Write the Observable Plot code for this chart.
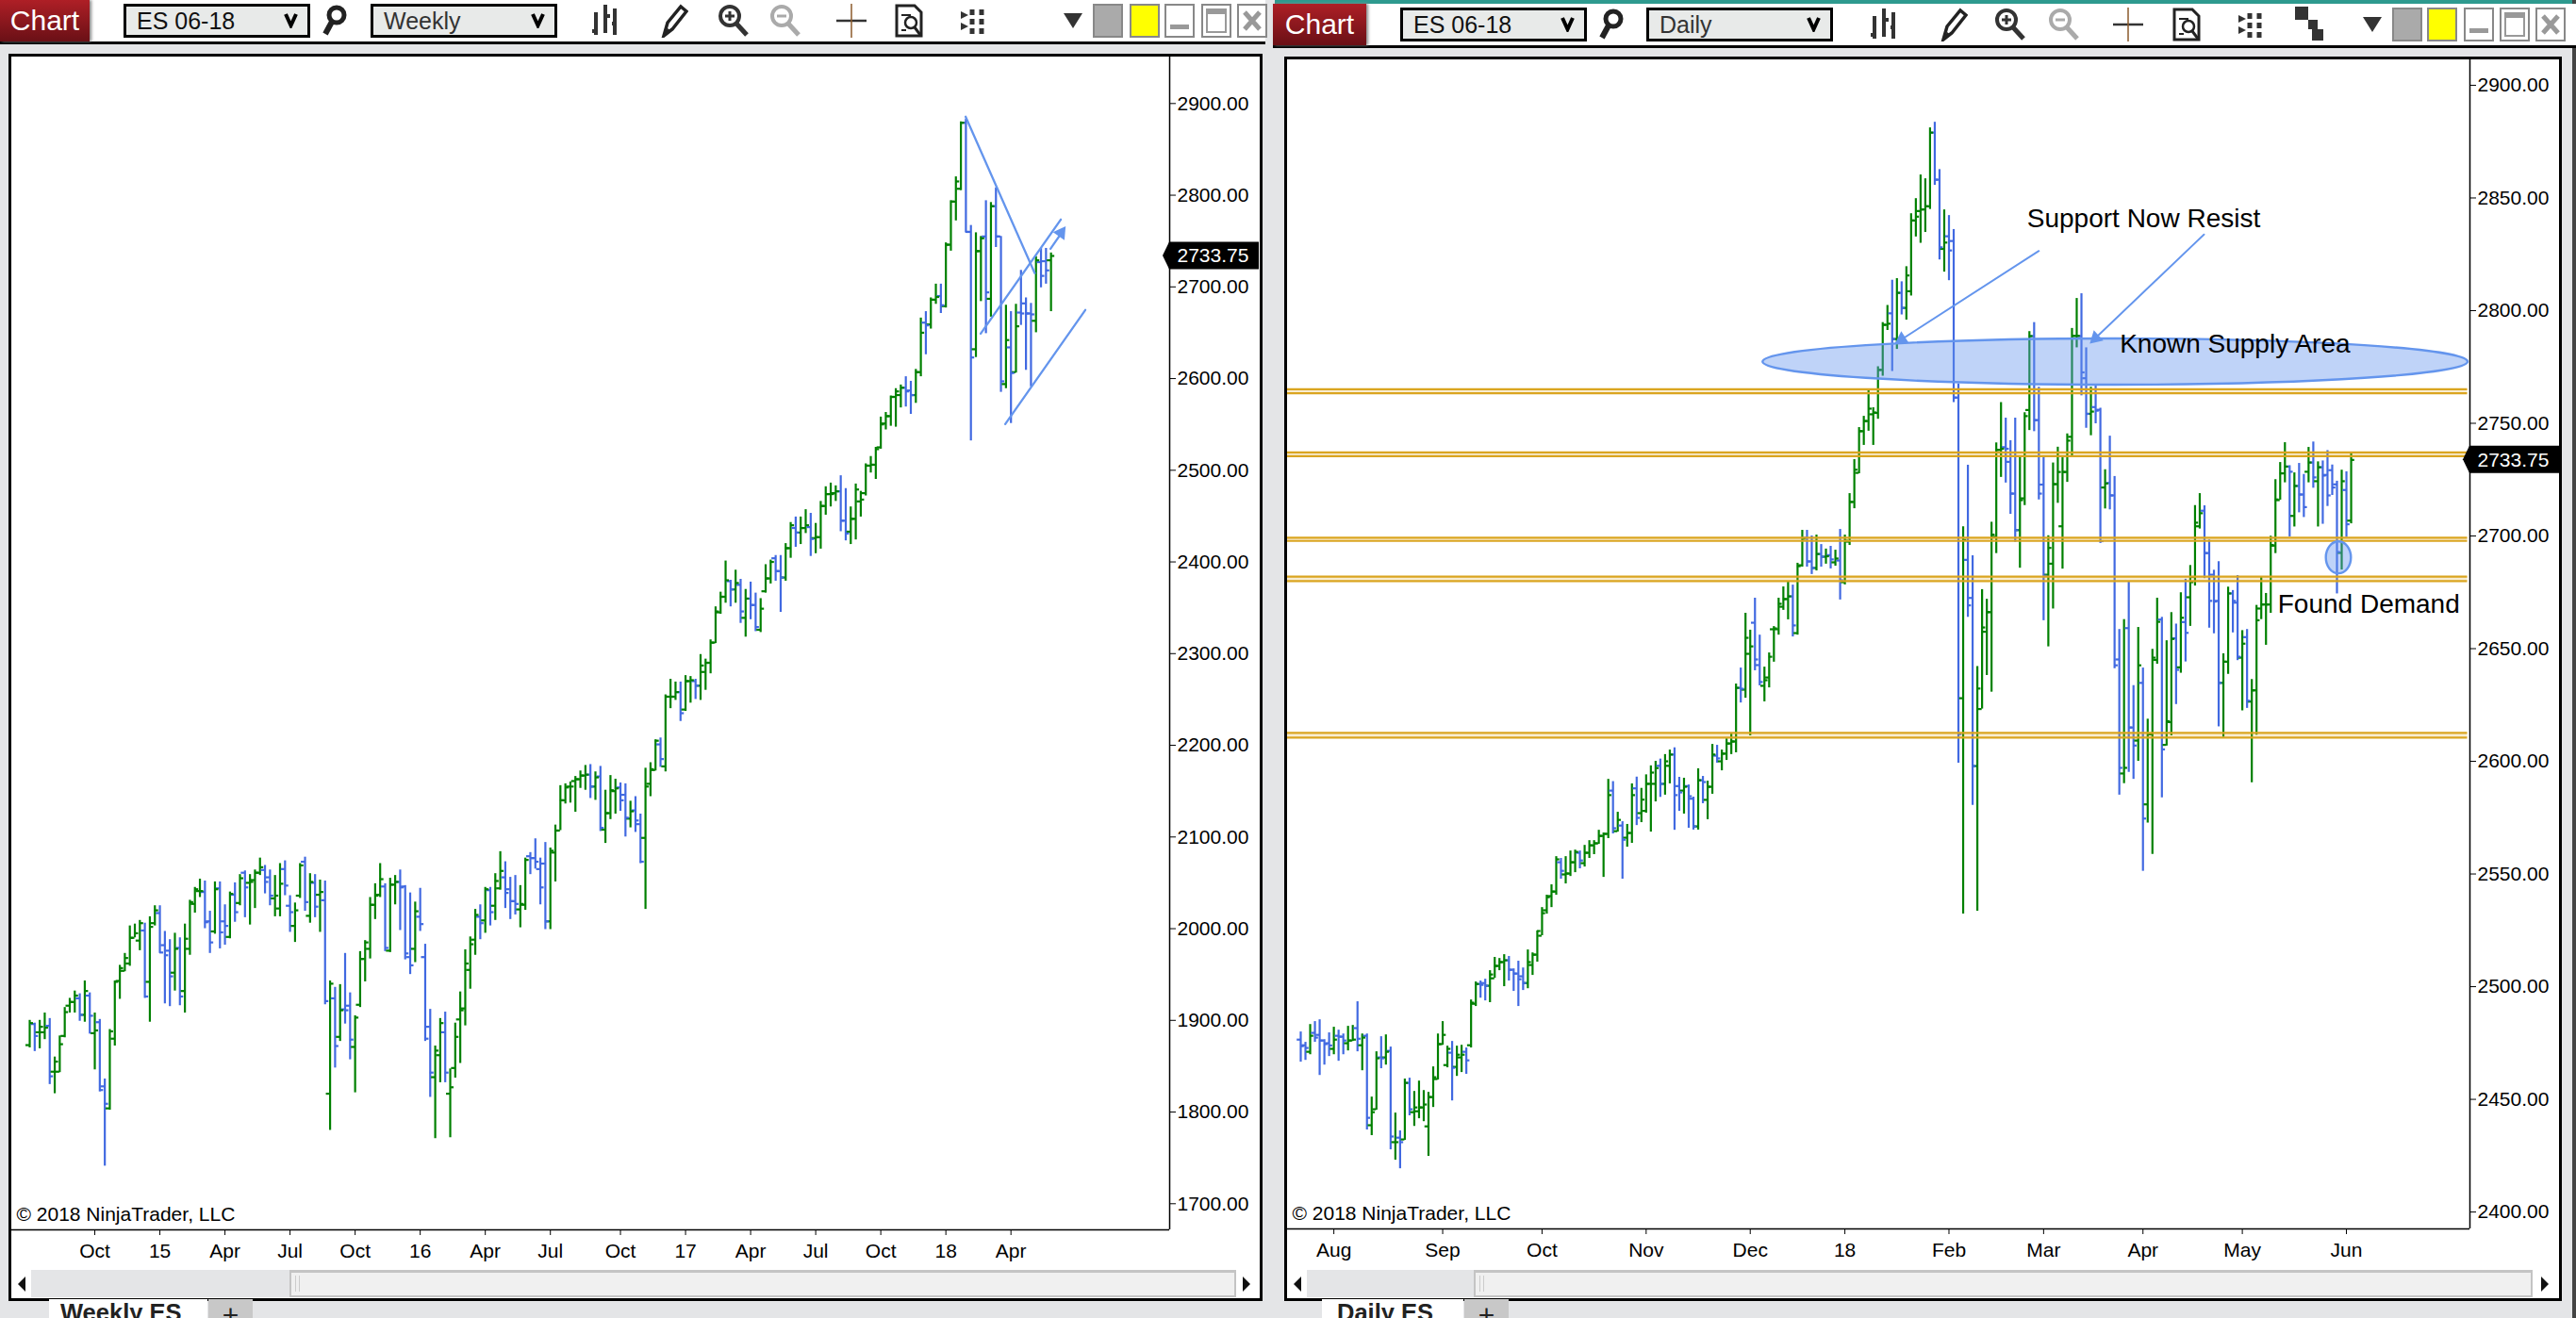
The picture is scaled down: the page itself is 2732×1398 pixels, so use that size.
<!DOCTYPE html>
<html><head><meta charset="utf-8">
<script src="https://cdn.jsdelivr.net/npm/d3@7"></script>
<script src="https://cdn.jsdelivr.net/npm/@observablehq/plot@0.6"></script>
<style>
html,body{margin:0;padding:0;background:#E4E5E7;width:2732px;height:1398px;overflow:hidden;font-family:"Liberation Sans",Arial,sans-serif}
.abs{position:absolute}
.tab{position:absolute;color:#fff;display:flex;align-items:center;justify-content:center;font-size:30px;background:linear-gradient(#AE1F26,#6A1016);box-shadow:2px 0 3px #888}
.dd{position:absolute;box-sizing:border-box;border:3px solid #000;background:#E8EAE9;font-size:25px;padding-left:11px;display:flex;align-items:center;justify-content:space-between;padding-right:10px;color:#111}
.pane{position:absolute;box-sizing:border-box;border:3px solid #000;background:#fff}
.sb{position:absolute;box-sizing:border-box;background:#F0F0F0;border:2px solid #C4C4C4;border-top-width:3px}
.btm{position:absolute;background:#fff;top:1378px;height:20px;overflow:hidden;font-weight:bold;font-size:25.5px;text-align:left;padding-left:12px;box-sizing:border-box;color:#222;line-height:29px}
</style></head><body><div id="root"></div>
<script>
// OHLC bars: [open, high, low, close]
const weeklyBars=[
[1873,1900,1870,1897],[1896,1897,1866,1883],[1887,1900,1869,1893],[1887,1908,1879,1892],[1894,1902,1830,1839],
[1844,1860,1820,1855],[1844,1883,1843,1874],[1883,1914,1881,1909],[1916,1924,1908,1920],[1920,1932,1908,1927],
[1924,1929,1899,1906],[1906,1943,1898,1932],[1927,1930,1885,1905],[1886,1908,1846,1889],[1898,1901,1822,1824],
[1828,1836,1741,1809],[1804,1890,1802,1888],[1880,1943,1872,1942],[1943,1960,1923,1957],[1954,1973,1953,1968],
[1962,2003,1959,1990],[1990,2005,1990,1995],[1987,2009,1976,2006],[1998,2006,1924,1926],[1942,2013,1898,2002],
[2006,2025,2003,2020],[2017,2025,1973,1974],[1982,1997,1918,1971],[1976,1988,1915,1948],[1952,1995,1932,1978],
[1979,1990,1916,1926],[1932,2005,1908,1989],[1978,2031,1971,2029],[2027,2045,2017,2043],[2041,2054,2034,2041],
[2040,2052,2000,2007],[2008,2019,1973,1985],[1997,2051,1994,2043],[2044,2051,1978,1996],[2008,2026,1982,2003],
[1991,2040,1989,2038],[2037,2050,2007,2018],[2028,2059,2025,2055],[2061,2063,2012,2045],[2050,2059,2004,2051],
[2053,2064,2022,2061],[2061,2077,2058,2067],[2064,2069,2038,2051],[2056,2064,2025,2036],[2033,2058,2013,2036],
[2022,2071,2013,2049],[2065,2074,2036,2047],[2025,2036,1996,2018],[2003,2028,1985,2020],[2036,2071,2033,2069],
[2073,2078,2019,2029],[2014,2060,2006,2051],[2050,2059,2012,2024],[2037,2053,1996,2040],[2031,2052,1917,1921],
[1820,1943,1780,1940],[1924,1936,1848,1872],[1882,1939,1877,1911],[1912,1973,1896,1911],[1916,1930,1857,1879],
[1871,1905,1821,1903],[1917,1975,1914,1967],[1967,1987,1942,1985],[1978,2034,1967,2026],[2026,2049,2010,2036],
[2037,2071,2034,2054],[2046,2049,1975,1979],[1976,2055,1974,2048],[2048,2058,2026,2051],[2051,2064,1998,2045],
[2046,2047,1966,1973],[1969,2039,1950,1960],[1978,2029,1963,2019],[2013,2044,1997,2005],[1969,1983,1877,1880],
[1893,1912,1816,1843],[1838,1872,1771,1867],[1862,1902,1832,1897],[1887,1909,1832,1843],[1820,1847,1772,1827],
[1848,1897,1837,1882],[1901,1931,1853,1911],[1913,1977,1894,1962],[1955,1991,1934,1983],[1988,2021,1971,2015],
[2013,2026,1988,2006],[2009,2045,1995,2043],[2042,2045,2003,2018],[2025,2060,2009,2052],[2044,2084,2042,2063],
[2056,2073,2022,2039],[2043,2056,2010,2030],[2030,2058,2015,2027],[2021,2047,2001,2027],[2026,2077,2020,2075],
[2079,2083,2059,2077],[2077,2098,2065,2073],[2065,2077,2026,2045],[2071,2094,1999,2008],[2008,2088,1999,2085],
[2083,2113,2051,2107],[2107,2156,2107,2140],[2140,2158,2136,2154],[2155,2160,2137,2155],[2161,2166,2127,2163],
[2163,2172,2153,2167],[2167,2178,2151,2168],[2168,2179,2142,2155],[2155,2171,2140,2165],[2166,2177,2106,2110],
[2108,2151,2093,2126],[2126,2167,2119,2151],[2150,2163,2125,2153],[2154,2159,2128,2140],[2146,2158,2100,2121],
[2120,2139,2110,2128],[2129,2144,2105,2118],[2114,2125,2071,2073],[2099,2175,2021,2155],[2158,2181,2144,2174],
[2173,2206,2172,2205],[2201,2208,2176,2185],[2177,2255,2171,2253],[2253,2272,2240,2253],[2253,2269,2249,2258],
[2258,2269,2226,2235],[2239,2276,2237,2270],[2270,2275,2246,2271],[2270,2272,2250,2265],[2265,2299,2249,2287],
[2280,2294,2260,2290],[2290,2315,2278,2312],[2312,2351,2311,2346],[2345,2367,2343,2362],[2362,2401,2355,2380],
[2379,2380,2351,2370],[2370,2391,2355,2377],[2375,2381,2333,2346],[2339,2370,2318,2360],[2360,2378,2337,2353],
[2353,2366,2324,2329],[2326,2360,2323,2349],[2368,2397,2366,2382],[2382,2402,2376,2400],[2404,2407,2379,2390],
[2390,2407,2345,2383],[2383,2420,2379,2415],[2415,2443,2404,2440],[2437,2449,2416,2432],[2432,2449,2419,2437],
[2437,2457,2431,2440],[2438,2453,2406,2425],[2426,2442,2409,2427],[2427,2466,2414,2461],[2461,2482,2451,2474],
[2474,2486,2460,2474],[2475,2483,2466,2477],[2477,2494,2433,2445],[2445,2480,2423,2431],[2433,2460,2419,2447],
[2447,2485,2424,2479],[2466,2477,2449,2468],[2475,2507,2472,2505],[2505,2515,2497,2506],[2506,2525,2490,2523],
[2525,2558,2523,2550],[2551,2563,2544,2559],[2559,2581,2548,2580],[2580,2589,2547,2586],[2582,2593,2568,2590],
[2590,2602,2569,2586],[2587,2597,2561,2582],[2582,2610,2573,2607],[2607,2666,2602,2650],[2661,2673,2626,2658],
[2659,2688,2654,2686],[2686,2703,2681,2689],[2690,2703,2671,2680],[2679,2748,2677,2746],[2746,2794,2739,2793],
[2793,2820,2772,2815],[2807,2880,2805,2879],[2879,2883,2759,2760],[2760,2767,2532,2623],[2632,2759,2623,2739],
[2739,2755,2684,2753],[2755,2794,2649,2694],[2687,2792,2667,2788],[2788,2808,2743,2755],[2755,2755,2585,2597],
[2594,2680,2589,2642],[2634,2673,2551,2606],[2607,2681,2606,2657],[2672,2718,2658,2671],[2682,2688,2609,2671],
[2671,2682,2591,2670],[2663,2733,2650,2729],[2727,2742,2699,2712],[2728,2742,2703,2718],[2729,2737,2673,2733.75]];

const dailyBars=[
[2476.5,2479.9,2466.5,2473.6],[2474,2475.3,2467.3,2472.8],[2471.1,2483.2,2469.8,2478.2],[2479.5,2484.5,2475.3,2477.4],[2478.6,2485.3,2460.6,2476.1],
[2476.1,2476.5,2465.2,2474.5],[2474.9,2479.5,2469,2473.9],[2472.4,2482,2469.8,2476.5],[2478.2,2480.7,2466.9,2477.8],[2477.8,2479,2469.8,2476.1],
[2474.9,2482.4,2471.5,2476.1],[2476.1,2482.8,2475.7,2476.5],[2481.6,2493.3,2471.1,2476.9],[2474,2479,2462.7,2477.4],[2478.2,2479,2436.4,2441.8],
[2438.5,2451,2433.9,2444.3],[2445.6,2471.1,2445.2,2468.2],[2468.6,2477.8,2463.6,2468.2],[2468.6,2478.6,2465.2,2471.1],[2471.5,2473.2,2427.6,2433.5],
[2431,2443.9,2423,2431],[2433,2436,2419.2,2431],[2432.2,2459,2431.8,2457.3],[2457.3,2459.4,2442.7,2445.6],[2444.3,2453.5,2438,2446.4],
[2444.7,2458.1,2441.4,2446.4],[2446.4,2453.9,2440.1,2447.7],[2438,2453.1,2424.7,2451],[2451,2464.4,2446.4,2459.8],[2459,2479,2458.6,2474.5],
[2474.5,2484.5,2474,2478.6],[2465.2,2473.6,2464,2472.4],[2470.7,2475.7,2449.3,2464],[2464.4,2473.6,2460.2,2469.8],[2468.6,2474,2461.9,2469.8],
[2471.1,2472.8,2461.1,2467.3],[2474,2494.1,2472.8,2492.9],[2492.4,2502.1,2491.2,2501.2],[2501.2,2502.5,2494.9,2500.8],[2501.6,2503.3,2493.7,2500.4],
[2500.4,2507.1,2492.9,2505.4],[2503.7,2513,2503.7,2509.2],[2509.2,2512.5,2507.1,2510.9],[2510.9,2514.2,2500,2511.7],[2511.7,2513.4,2502.5,2507.5],
[2507.5,2507.9,2497.9,2505.8],[2505.8,2511.3,2491.2,2503.3],[2504.6,2508.3,2498.3,2501.6],[2501.6,2516.3,2499.1,2510.9],[2509.6,2515,2505,2514.2],
[2514.2,2524.7,2510.9,2524.7],[2522.6,2535.1,2522.6,2532.6],[2533.9,2540.6,2532.2,2539.7],[2540.2,2545.2,2535.1,2542.2],[2542.2,2557.7,2540.6,2556.5],
[2555.2,2556.9,2547.7,2551.4],[2549.8,2557.7,2545.6,2550.2],[2550.2,2560.2,2548.9,2555.2],[2555.2,2560.6,2550.6,2559.8],[2559.4,2560.2,2552.3,2556],
[2554.8,2562.7,2553.1,2559.4],[2559.4,2564.8,2556.9,2562.7],[2562.7,2564.8,2558.6,2563.6],[2563.6,2569.4,2563.2,2566.9],[2566.9,2568.2,2548.5,2567.8],
[2567.8,2592,2565.7,2585],[2587,2591,2567.8,2570.3],[2569,2577.4,2568.6,2574],[2571.5,2573.2,2547.7,2565.2],[2566.1,2572,2561.9,2568.2],
[2568.2,2590,2563.6,2585],[2588,2593,2571.5,2574.9],[2577,2588,2572.8,2583],[2578,2594,2577,2590],[2590,2598,2568.6,2595],
[2590,2600,2582,2597],[2598,2601,2584,2590],[2590,2603,2585,2600],[2598,2605,2590,2603],[2603,2606,2569.4,2585],
[2589,2592.9,2577.8,2586.2],[2587,2592.5,2576.6,2588.7],[2589,2589.5,2570.3,2584.5],[2583.4,2584.1,2569.5,2571.1],[2571.1,2596.7,2569.5,2591.6],
[2591.6,2593.3,2581.2,2590.8],[2582.9,2591.2,2574.1,2588.7],[2588.7,2607.5,2585.4,2603],[2602.5,2607.1,2599.2,2601.3],[2600,2605,2595.8,2603.4],
[2603.4,2610,2600.4,2607.9],[2607.9,2612.6,2603,2608.8],[2608.8,2634.3,2603.8,2632.6],[2632.6,2641.4,2625.9,2632.2],[2631.8,2665.7,2628,2654.8],
[2647.7,2658.2,2611.3,2651],[2661.5,2672.4,2640.2,2645.2],[2642.7,2656,2633.5,2635.2],[2633.5,2641.8,2626.4,2636],[2637.2,2648.1,2632.6,2646.4],
[2658.6,2659.8,2644,2659],[2658.6,2672.4,2656,2669.9],[2668.6,2677.4,2667,2672],[2672,2679.9,2662.8,2673.2],[2673.2,2678.2,2655.2,2660.3],
[2656.9,2687.9,2656,2686.6],[2687,2702.5,2686.2,2698.8],[2699.2,2702.5,2686.2,2688.7],[2688.7,2700,2682.9,2685.8],[2685.8,2700.4,2684.5,2692],
[2692,2696.2,2686.2,2690.8],[2690.8,2694.2,2687.5,2691],[2691.5,2695.4,2685.4,2689.6],[2688.3,2693.7,2686.6,2690],[2689.1,2702.9,2671.6,2680.3],
[2679.5,2700.4,2678.3,2697.9],[2697.5,2718.8,2695.8,2715.1],[2715.1,2733.9,2712.1,2729.4],[2728,2748.1,2727.6,2746.5],[2746.5,2753.1,2740.2,2751],
[2751,2764.9,2746.5,2756.5],[2754,2756.9,2740.2,2754.8],[2754.6,2775.1,2751.8,2773.7],[2773.7,2794.7,2770.9,2793.7],[2793.7,2802.3,2791.2,2794.2],
[2798.8,2813.5,2773,2787.4],[2787.4,2814.2,2782.8,2807.9],[2807.9,2812.8,2798.1,2801.2],[2801.2,2819.5,2795.8,2815.6],[2808.6,2843,2806.5,2840],
[2840,2849.7,2832.7,2841.7],[2844.2,2860.2,2829.9,2844.9],[2844.9,2858.5,2834.7,2846.3],[2846.3,2881.1,2844.9,2879],[2879,2883.6,2855.6,2858.1],
[2858.1,2862.6,2822.5,2828.1],[2827.4,2844.7,2817.1,2830.2],[2833,2842.2,2813.3,2826.7],[2830.9,2836,2759.2,2761.4],[2761.4,2767.5,2599.2,2612.1],
[2628,2704.1,2532.2,2698.2],[2689.4,2731.4,2663.9,2669.2],[2672.5,2691.2,2580.5,2597.9],[2597.9,2642.1,2533.5,2632.3],[2623.2,2676.2,2623.2,2659.4],
[2657.5,2671.9,2638.1,2666.2],[2666.2,2706.1,2630.7,2700.6],[2699.6,2741.3,2692.2,2738.2],[2738.2,2759.2,2726,2738.7],[2739.4,2752.3,2723.5,2738.7],
[2732.9,2742.3,2709.6,2718.8],[2718.8,2752.3,2697.2,2702.6],[2702.6,2735.4,2685.7,2715.9],[2716.7,2754.7,2713.5,2753.2],[2755.9,2790.7,2746.8,2788.7],
[2788.7,2794.7,2746.3,2751.4],[2751.4,2766,2716,2718.8],[2722.8,2735.4,2662.4,2682.4],[2682.8,2700.1,2650.8,2694.7],[2687.7,2732.4,2667.6,2723],
[2723,2739.4,2714.5,2728.4],[2704.3,2734.7,2685.3,2728.4],[2728.4,2745.3,2723.8,2742.3],[2744,2792.1,2734.9,2788.8],[2788.8,2805.4,2783.5,2788.8],
[2788.7,2807.5,2762.2,2772.6],[2770,2783.5,2747.8,2754.2],[2754.2,2766,2744.5,2755.2],[2757.2,2767,2749.8,2755.6],[2756,2756.7,2696.7,2697.7],
[2721.5,2729.4,2712,2723.3],[2723.5,2744.3,2711.6,2718],[2718,2726.4,2641.1,2642.6],[2645.2,2658.5,2585,2597.1],[2594.6,2662.9,2590.1,2597.1],
[2659.1,2679.8,2595.1,2615],[2615,2633.6,2592,2607],[2609.2,2659.4,2600,2642.6],[2634.8,2641.4,2551.2,2574.6],[2580.9,2618.7,2572.6,2612],
[2612,2649.7,2558.7,2646],[2645,2672.4,2643.1,2661.9],[2662.9,2663.9,2583.8,2605.3],[2607.3,2653.5,2606.8,2617.8],[2617.4,2666,2611.3,2654.3],
[2654.6,2660.9,2625.2,2640.6],[2641.7,2674.8,2639.1,2663.7],[2661.8,2680.8,2644.1,2657],[2672.8,2686.9,2659.9,2679.5],[2681.8,2713.5,2677.8,2705.9],
[2704.3,2718.8,2703.1,2710.1],[2711.2,2713.4,2681.1,2692.4],[2692.4,2698.2,2659.1,2671.2],[2682.8,2684.8,2656.6,2670.9],[2671.2,2688.6,2615.3,2634.8],
[2634.8,2647.7,2610.6,2644.2],[2644.2,2677.3,2638.6,2674.5],[2674.5,2675.8,2657,2671.2],[2670.4,2682.4,2644.7,2646.4],[2646,2658,2622.4,2652.2],
[2655.1,2658.5,2623.5,2626.9],[2626.5,2636.3,2590.5,2631.5],[2631.5,2669.2,2611.6,2662.6],[2667.8,2681.6,2662.9,2669.6],[2669.6,2674.5,2651.5,2669.6],
[2669.6,2699.9,2665.7,2696],[2695.7,2725,2692.2,2716.2],[2715.9,2732.6,2715.9,2727.8],[2727.8,2741.4,2723.6,2730.8],[2730.8,2731.2,2699.6,2728.5],
[2708.9,2728,2704,2722.2],[2722.2,2732.2,2710.3,2718.4],[2718.4,2727.3,2708.2,2712.8],[2728.5,2739.3,2723.6,2732.6],[2732.6,2741.7,2721.2,2726],
[2724.3,2732.9,2704,2730.5],[2730.5,2733.3,2705.2,2726.8],[2727.1,2737.9,2713.1,2718],[2729.2,2731.5,2718,2721.5],[2722.9,2724.3,2674.3,2692.9],
[2692.5,2729.2,2684.9,2724.3],[2720.4,2728.5,2699.4,2705.2],[2706.8,2737.1,2705.4,2733.75]];

const weeklyTickPos=[14,27,40,53,66,79,92,105,119,132,145,158,171,184,197];
const weeklyTickLabels=["Oct","15","Apr","Jul","Oct","16","Apr","Jul","Oct","17","Apr","Jul","Oct","18","Apr"];
const dailyTickPos=[8,31,52,74,96,116,138,158,179,200,222];
const dailyTickLabels=["Aug","Sep","Oct","Nov","Dec","18","Feb","Mar","Apr","May","Jun"];
const lastPrice=2733.75;

// Hand-drawn trend lines on the weekly chart: bar number, price
const weeklyLines=[
 [[187.94,2885.6],[201.75,2714.9]],
 [[190.95,2649],[206.96,2773.5]],
 [[195.85,2550.3],[211.85,2674.8]],
 [[204.9,2741.6],[206.6,2755]]];
const weeklyArrowHead=[[207,2759,35]];
// Daily chart drawings
const bandUpper=[2765.1,2737.1,2699.2,2682,2612.6];
const bandLower=[2763.3,2735.4,2697.8,2680,2610.5];
const dailyArrows=[
 [[157,2826.5],[127.3,2786.3]],
 [[191.9,2833.8],[168.4,2786.7]]];
const dailyArrowHeads=[[128,2787.3,-123],[169,2787.8,-133]];
const dailyEllipses=[[173.2,2777.2,74.5,10.25],[220.4,2690.3,2.65,7.1]];
const dailyNotes=[
 {text:"Support Now Resist",bar:154.5,price:2840.9},
 {text:"Known Supply Area",bar:174.1,price:2785},
 {text:"Found Demand",bar:207.5,price:2669.5}];

const GREEN="#008000",BLUE="#4169E1",DRAW="#6495ED",GOLD="#DAA520",FONT='"Liberation Sans",Arial,sans-serif';
const table=b=>b.map(([o,h,l,c],k)=>({i:k+1,o,h,l,c,col:c>=o?GREEN:BLUE}));
const NS="http://www.w3.org/2000/svg";

function barMarks(data){
 const w=2.2;
 return [
  Plot.ruleX(data,{x:"i",y1:"l",y2:"h",stroke:"col",strokeWidth:w}),
  Plot.ruleY(data,{y:"o",x1:d=>d.i-0.75,x2:"i",stroke:"col",strokeWidth:w}),
  Plot.ruleY(data,{y:"c",x1:"i",x2:d=>d.i+0.75,stroke:"col",strokeWidth:w})
 ];
}
function priceTag(){
 return (index,{y},values,dim)=>{
  const x0=dim.width-dim.marginRight,cy=y(lastPrice),p=document.createElementNS(NS,"path");
  p.setAttribute("d",`M${x0-7},${cy}L${x0},${cy-14.5}H${dim.width-2}V${cy+14.5}H${x0}Z`);
  p.setAttribute("fill","#000");return p;};
}
function ellipseMark([cx,cy,rx,ry]){
 return (index,{x,y})=>{
  const e=document.createElementNS(NS,"ellipse");
  e.setAttribute("cx",x(cx));e.setAttribute("cy",y(cy));
  e.setAttribute("rx",Math.abs(x(cx+rx)-x(cx)));e.setAttribute("ry",Math.abs(y(cy+ry)-y(cy)));
  e.setAttribute("fill",DRAW);e.setAttribute("fill-opacity",0.41);
  e.setAttribute("stroke",DRAW);e.setAttribute("stroke-width",2.4);return e;};
}
const linesMark=(segs,sw)=>segs.map(s=>Plot.line(s,{x:d=>d[0],y:d=>d[1],stroke:DRAW,strokeWidth:sw}));
const headMark=(h,r)=>Plot.dot(h,{x:d=>d[0],y:d=>d[1],rotate:d=>d[2],symbol:"triangle",r,fill:DRAW});

function chart({bars,xDomain,yDomain,width,height,marginBottom,tickPos,tickLabels,step,yStart,yEnd,extra}){
 const data=table(bars),fmt=d3.format(".2f");
 return Plot.plot({
  width,height,marginLeft:1,marginRight:97,marginTop:2,marginBottom,
  style:{fontFamily:FONT,background:"transparent",overflow:"visible",color:"#000"},
  color:{type:"identity"},
  x:{type:"linear",domain:xDomain},
  y:{type:"linear",domain:yDomain},
  marks:[
   ...barMarks(data),
   ...extra,
   Plot.ruleX([xDomain[1]],{stroke:"#000",strokeWidth:1.5}),
   Plot.ruleY([yDomain[0]],{stroke:"#000",strokeWidth:1.5}),
   Plot.axisY({anchor:"right",ticks:d3.range(yStart,yEnd+1,step),tickFormat:fmt,tickSize:6,tickPadding:2,fontSize:21,label:null,color:"#000",fontVariant:"normal"}),
   Plot.axisX({ticks:tickPos,tickFormat:d=>tickLabels[tickPos.indexOf(d)],tickSize:6,tickPadding:9,fontSize:21,label:null,color:"#000",fontVariant:"normal"}),
   priceTag(),
   Plot.text([fmt(lastPrice)],{x:xDomain[1],y:lastPrice,dx:8,text:d=>d,textAnchor:"start",fill:"#fff",fontSize:21,fontVariant:"normal"}),
   Plot.text(["© 2018 NinjaTrader, LLC"],{frameAnchor:"bottom-left",text:d=>d,dx:5,dy:-10,textAnchor:"start",lineAnchor:"bottom",fill:"#000",fontSize:21,fontVariant:"normal"})
  ]
 });
}

const weekly=chart({bars:weeklyBars,xDomain:[-2.58,228.7],yDomain:[1671.5,2950.7],width:1326,height:1289,marginBottom:43,
 tickPos:weeklyTickPos,tickLabels:weeklyTickLabels,step:100,yStart:1700,yEnd:2900,
 extra:[...linesMark(weeklyLines,2.3),headMark(weeklyArrowHead,5.5)]});

const bandTable=bandUpper.map((u,k)=>({u,l:bandLower[k]}));
const dX=[-1.79,248.1];
const daily=chart({bars:dailyBars,xDomain:dX,yDomain:[2392.5,2911.7],width:1352,height:1287,marginBottom:44,
 tickPos:dailyTickPos,tickLabels:dailyTickLabels,step:50,yStart:2400,yEnd:2900,
 extra:[
  Plot.rect(bandTable,{x1:()=>dX[0],x2:()=>dX[1]-0.5,y1:"l",y2:"u",fill:GOLD,fillOpacity:0.2}),
  Plot.ruleY(bandUpper,{x1:dX[0],x2:dX[1]-0.5,stroke:GOLD,strokeWidth:2.2}),
  Plot.ruleY(bandLower,{x1:dX[0],x2:dX[1]-0.5,stroke:GOLD,strokeWidth:2.2}),
  ellipseMark(dailyEllipses[0]),ellipseMark(dailyEllipses[1]),
  ...linesMark(dailyArrows,1.9),headMark(dailyArrowHeads,5.5),
  Plot.text(dailyNotes,{x:"bar",y:"price",text:"text",textAnchor:"start",fontSize:28,fill:"#000",fontVariant:"normal"})
 ]});

// ---- window chrome ----
const root=document.getElementById("root");
const add=(html)=>{const t=document.createElement("div");t.innerHTML=html;while(t.firstChild)root.appendChild(t.firstChild);};
const svgIcon=(cx,cy,w,h,inner)=>`<svg class="abs" style="left:${cx-w/2}px;top:${cy-h/2}px" width="${w}" height="${h}" viewBox="0 0 ${w} ${h}">${inner}</svg>`;
const chevron=`<svg width="15" height="16" viewBox="0 0 15 16"><path d="M2 1L7.5 13L13 1" fill="none" stroke="#000" stroke-width="4"/></svg>`;
const glass=(cx,cy,c,sign)=>svgIcon(cx,cy,38,36,`<circle cx="15" cy="13" r="10" fill="none" stroke="${c}" stroke-width="4"/><path d="M22 21L33 33" stroke="${c}" stroke-width="5"/>${sign?`<path d="M10 13H20${sign==="+"?"M15 8V18":""}" stroke="${c}" stroke-width="3"/>`:""}`);
const D="#333";
function toolbar(o){
 let s=`<div class="abs" style="left:${o.x0}px;width:${o.x1-o.x0}px;top:${o.top}px;height:${o.h}px;background:#fff;border-bottom:3px solid #000"></div>`;
 s+=`<div class="tab" style="left:${o.x0}px;top:${o.top}px;width:${o.tabW}px;height:${o.h}px">Chart</div>`;
 s+=`<div class="dd" style="left:${o.dd1}px;width:198px;top:${o.ddTop}px;height:36px"><span>ES 06-18</span>${chevron}</div>`;
 s+=`<div class="dd" style="left:${o.dd2}px;width:198px;top:${o.ddTop}px;height:36px"><span style="color:#333">${o.period}</span>${chevron}</div>`;
 const cy=o.cy;
 s+=svgIcon(o.search,cy,28,36,`<circle cx="16" cy="12" r="8" fill="none" stroke="#222" stroke-width="5"/><path d="M11 19L4 32" stroke="#222" stroke-width="6"/>`);
 s+=svgIcon(o.bars,cy,30,38,`<path d="M5 10V34M15 2V32M25 6V34M1 30H5M15 14H20M22 22H25" stroke="${D}" stroke-width="4"/>`);
 s+=svgIcon(o.pen,cy,30,36,`<path d="M4 34L8 20L22 3L28 8L13 27Z" fill="#fff" stroke="#222" stroke-width="3.5"/><path d="M4 34L8 26L12 29Z" fill="#222"/>`);
 s+=glass(o.zin,cy,"#333","+");s+=glass(o.zout,cy,"#aaa","-");
 s+=svgIcon(o.cross,cy,36,36,`<path d="M2 18H34" stroke="#333" stroke-width="2.5"/><path d="M18 0V36" stroke="#8B5A2B" stroke-width="1.5"/>`);
 s+=svgIcon(o.doc,cy,32,36,`<path d="M3 2H22L29 9V34H3Z" fill="#fff" stroke="#222" stroke-width="3"/><circle cx="18" cy="20" r="6" fill="none" stroke="#222" stroke-width="2.5"/><path d="M22 25L28 33" stroke="#222" stroke-width="3"/><path d="M8 12H18M8 28H13" stroke="#222" stroke-width="2"/>`);
 s+=svgIcon(o.list,cy,30,30,`<path d="M2 5L10 9L2 13ZM2 17L10 21L2 25Z" fill="#333"/><path d="M14 3V9M24 3V9M14 13V19M24 13V19M14 23V29M24 23V29" stroke="#333" stroke-width="5"/>`);
 if(o.stack) s+=svgIcon(o.stack,cy-1,34,36,`<path d="M2 0H16V14H2ZM16 14H26V24H16ZM20 24H32V36H20Z" fill="#333"/>`);
 s+=svgIcon(o.down,cy,20,16,`<path d="M0 0H20L10 16Z" fill="#333"/>`);
 const box=(x,fill,inner="")=>svgIcon(x,cy,32,36,`<rect x="1" y="1" width="30" height="34" fill="${fill}" stroke="#888" stroke-width="2"/>${inner}`);
 s+=box(o.b1,"#AAAAAA");s+=box(o.b2,"#FFFF00");
 s+=box(o.b3,"#fff",`<rect x="6" y="22" width="20" height="5" fill="#999"/>`);
 s+=box(o.b4,"#fff",`<rect x="6" y="6" width="20" height="24" fill="none" stroke="#999" stroke-width="2"/><rect x="6" y="6" width="20" height="5" fill="#999"/>`);
 s+=box(o.b5,"#fff",`<path d="M8 9L24 27M24 9L8 27" stroke="#999" stroke-width="5"/>`);
 return s;
}
function scroll(o){
 const t=1347;
 return `<div class="abs" style="left:${o.l}px;top:${t}px;width:${o.r-o.l}px;height:29px;background:#E4E5E7"></div>
 <div class="abs" style="left:${o.l}px;top:${t}px;width:20px;height:29px;background:#fff"></div>
 <div class="sb" style="left:${o.t0}px;top:${t}px;width:${o.t1-o.t0}px;height:29px"></div>
 <div class="abs" style="left:${o.t0+6}px;top:${t+6}px;width:3px;height:17px;border-left:1px solid #ccc;border-right:1px solid #ccc"></div>
 <div class="abs" style="left:${o.t1}px;top:${t}px;width:${o.r-o.t1}px;height:29px;background:#fff"></div>
 ${svgIcon(o.l+10,t+15,8,16,`<path d="M8 0V16L0 8Z" fill="#111"/>`)}
 ${svgIcon(o.r-14,t+15,8,16,`<path d="M0 0V16L8 8Z" fill="#111"/>`)}`;
}
add(`<div class="abs" style="left:1340px;top:0;width:12px;height:1398px;background:#E4E5E7"></div>
<div class="abs" style="left:1352px;top:0;width:1380px;height:4px;background:#2E9A8F"></div>
<div class="abs" style="left:2728px;top:0;width:4px;height:1398px;background:#444"></div>`);
add(toolbar({x0:0,x1:1342,top:0,h:44,tabW:95,dd1:131,dd2:393,ddTop:4,cy:22,period:"Weekly",search:355,bars:642,pen:715,zin:778,zout:833,cross:903,doc:964,list:1032,down:1138,b1:1175,b2:1214,b3:1251,b4:1290,b5:1328}));
add(toolbar({x0:1350,x1:2732,top:4,h:44,tabW:99,dd1:1485,dd2:1746,ddTop:8,cy:26,period:"Daily",search:1709,bars:1998,pen:2072,zin:2132,zout:2189,cross:2257,doc:2319,list:2387,stack:2449,down:2516,b1:2553,b2:2590,b3:2629,b4:2667,b5:2705}));
add(`<div class="pane" style="left:9px;top:57px;width:1330px;height:1323px"></div>`);
add(`<div class="pane" style="left:1362px;top:60px;width:1355px;height:1320px"></div>`);
add(scroll({l:13,r:1336,t0:307,t1:1311}));
add(scroll({l:1366,r:2713,t0:1563,t1:2686}));
add(`<div class="btm" style="left:52px;width:168px">Weekly ES</div><div class="abs" style="left:221px;top:1378px;width:47px;height:20px;background:#C8C8C8;text-align:center;font-size:30px;line-height:34px;color:#222;overflow:hidden">+</div>`);
add(`<div class="btm" style="left:1402px;width:150px;padding-left:16px">Daily ES</div><div class="abs" style="left:1553px;top:1378px;width:47px;height:20px;background:#C8C8C8;text-align:center;font-size:30px;line-height:34px;color:#222;overflow:hidden">+</div>`);
const place=(el,l,t)=>{el.style.position="absolute";el.style.left=l+"px";el.style.top=t+"px";root.appendChild(el);};
place(weekly,11,58);
place(daily,1364,60);
</script></body></html>
